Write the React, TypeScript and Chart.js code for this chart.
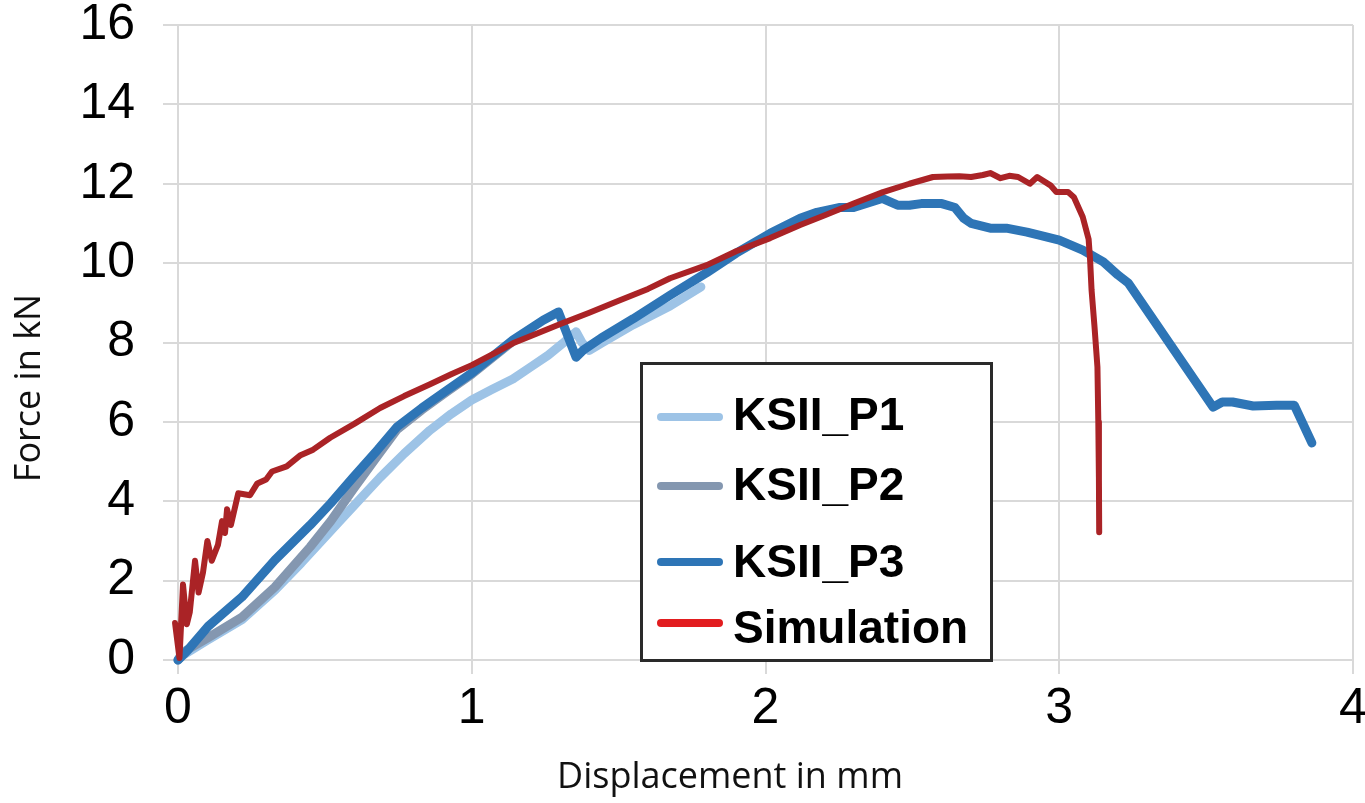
import React, { useEffect, useRef } from "react";
import { Chart, registerables } from "chart.js";

Chart.register(...registerables);

// ---- data ----
const X_TITLE = "Displacement in mm";
const Y_TITLE = "Force in kN";

const seriesLabels = ["KSII_P1", "KSII_P2", "KSII_P3", "Simulation"];
const lineColors = ["#9DC3E6", "#8497B0", "#2E75B6", "#AA2326"];
const legendColors = ["#9DC3E6", "#8497B0", "#2E75B6", "#E21D1F"];
const lineWidths = [9, 9, 9, 6];
const drawOrder = [4, 3, 2, 1]; // higher = drawn first (underneath)

const p1X = [0, 0.013, 0.1, 0.218, 0.33, 0.42, 0.55, 0.688, 0.77, 0.858, 0.93, 1.0, 1.07, 1.14, 1.2, 1.26, 1.31, 1.355, 1.375, 1.4, 1.44, 1.55, 1.675, 1.78];
const p1Y = [0, 0.1, 0.5, 1.02, 1.76, 2.45, 3.5, 4.6, 5.2, 5.79, 6.2, 6.55, 6.82, 7.08, 7.38, 7.68, 7.98, 8.27, 8.0, 7.8, 7.98, 8.45, 8.92, 9.4];

const p2X = [0, 0.013, 0.1, 0.218, 0.33, 0.45, 0.52, 0.596, 0.68, 0.745, 0.83, 0.916, 1.0, 1.14, 1.2];
const p2Y = [0, 0.18, 0.55, 1.08, 1.84, 2.85, 3.5, 4.3, 5.15, 5.8, 6.3, 6.76, 7.2, 8.03, 8.33];

const p3X = [0, 0.03, 0.103, 0.218, 0.33, 0.45, 0.52, 0.596, 0.68, 0.745, 0.83, 0.916, 1.0, 1.14, 1.243, 1.295, 1.31, 1.355, 1.38, 1.44, 1.55, 1.675, 1.8, 1.9, 2.016, 2.118, 2.175, 2.25, 2.3, 2.397, 2.45, 2.49, 2.53, 2.6, 2.645, 2.675, 2.7, 2.765, 2.82, 2.89, 2.935, 3.0, 3.08, 3.15, 3.2, 3.235, 3.524, 3.555, 3.59, 3.66, 3.74, 3.8, 3.86];
const p3Y = [0, 0.22, 0.85, 1.59, 2.52, 3.4, 3.95, 4.6, 5.3, 5.87, 6.35, 6.8, 7.23, 8.06, 8.56, 8.77, 8.49, 7.63, 7.81, 8.11, 8.6, 9.19, 9.76, 10.25, 10.75, 11.13, 11.28, 11.4, 11.4, 11.63, 11.46, 11.46, 11.5, 11.5, 11.4, 11.13, 11.0, 10.88, 10.88, 10.78, 10.7, 10.58, 10.33, 10.03, 9.7, 9.5, 6.37, 6.5, 6.5, 6.4, 6.42, 6.42, 5.47];

const simX = [-0.034, -0.01, 0.005, 0.017, 0.03, 0.04, 0.058, 0.07, 0.085, 0.1, 0.115, 0.136, 0.15, 0.16, 0.167, 0.18, 0.205, 0.245, 0.27, 0.3, 0.32, 0.37, 0.415, 0.46, 0.518, 0.6, 0.688, 0.77, 0.858, 0.93, 1.0, 1.07, 1.14, 1.22, 1.31, 1.4, 1.5, 1.6, 1.675, 1.8, 1.9, 2.016, 2.118, 2.2, 2.3, 2.4, 2.49, 2.57, 2.62, 2.66, 2.7, 2.74, 2.765, 2.8, 2.83, 2.86, 2.9, 2.925, 2.97, 2.99, 3.03, 3.05, 3.08, 3.1, 3.105, 3.11, 3.12, 3.13, 3.133, 3.135, 3.136];
const simY = [0.45, 0.93, 0.05, 1.9, 0.9, 1.2, 2.5, 1.7, 2.2, 3.0, 2.5, 2.9, 3.5, 3.2, 3.8, 3.4, 4.2, 4.15, 4.45, 4.55, 4.75, 4.88, 5.15, 5.3, 5.6, 5.95, 6.35, 6.65, 6.95, 7.2, 7.43, 7.7, 7.98, 8.22, 8.49, 8.75, 9.05, 9.35, 9.62, 9.95, 10.3, 10.63, 10.96, 11.2, 11.5, 11.79, 12.0, 12.17, 12.18, 12.19, 12.17, 12.22, 12.27, 12.14, 12.2, 12.17, 12.0, 12.17, 11.96, 11.79, 11.79, 11.66, 11.16, 10.6, 10.08, 9.32, 8.4, 7.38, 6.0, 4.6, 3.22];

const xTicks = [0, 1, 2, 3, 4];
const yTicks = [0, 2, 4, 6, 8, 10, 12, 14, 16];

const zip = (xs: number[], ys: number[]) => xs.map((x, i) => ({ x, y: ys[i] }));
const seriesPoints = [zip(p1X, p1Y), zip(p2X, p2Y), zip(p3X, p3Y), zip(simX, simY)];

const overlayPlugin = {
  id: "overlay",
  afterDraw(chart: any) {
    const ctx = chart.ctx as CanvasRenderingContext2D;
    ctx.save();
    // axis titles
    ctx.fillStyle = "#111";
    ctx.font = "36px 'Open Sans'";
    ctx.textAlign = "center";
    ctx.textBaseline = "middle";
    ctx.fillText(X_TITLE, 730, 778);
    ctx.save();
    ctx.translate(30, 388);
    ctx.rotate(-Math.PI / 2);
    ctx.fillText(Y_TITLE, 0, 0);
    ctx.restore();

    // legend box
    ctx.fillStyle = "#ffffff";
    ctx.fillRect(641, 363, 351, 298);
    ctx.strokeStyle = "#2a2a2a";
    ctx.lineWidth = 3;
    ctx.strokeRect(641.5, 363.5, 350, 297);
    const sampleY = [417, 486, 562, 623];
    const baseY = [430, 500, 577, 643];
    ctx.font = "bold 46px 'Liberation Sans'";
    ctx.textAlign = "left";
    ctx.textBaseline = "alphabetic";
    chart.data.datasets.forEach((ds: any, i: number) => {
      ctx.strokeStyle = legendColors[i];
      ctx.lineWidth = 8;
      ctx.lineCap = "round";
      ctx.beginPath();
      ctx.moveTo(661, sampleY[i]);
      ctx.lineTo(719, sampleY[i]);
      ctx.stroke();
      ctx.fillStyle = "#000";
      ctx.fillText(ds.label, 733, baseY[i]);
    });
    ctx.restore();
  },
};

const zeroPadding = (s: any) => {
  s.paddingTop = 0;
  s.paddingBottom = 0;
  s.paddingLeft = 0;
  s.paddingRight = 0;
};

export default function App() {
  const ref = useRef<HTMLCanvasElement | null>(null);
  useEffect(() => {
    if (!ref.current) return;
    const chart = new Chart(ref.current, {
      type: "scatter",
      data: {
        datasets: seriesLabels.map((label, i) => ({
          label,
          data: seriesPoints[i],
          order: drawOrder[i],
          showLine: true,
          borderColor: lineColors[i],
          backgroundColor: lineColors[i],
          borderWidth: lineWidths[i],
          pointRadius: 0,
          pointHoverRadius: 0,
          tension: 0,
          borderJoinStyle: "round",
          borderCapStyle: "round",
          clip: false,
        })),
      },
      options: {
        responsive: false,
        animation: false,
        layout: { padding: { left: 0, top: 25, right: 12, bottom: 0 } },
        plugins: { legend: { display: false }, tooltip: { enabled: false } },
        scales: {
          x: {
            type: "linear",
            min: 0,
            max: 4,
            afterBuildTicks: (s: any) => {
              s.ticks = xTicks.map((v) => ({ value: v }));
            },
            afterFit: (s: any) => {
              s.height = 143;
              zeroPadding(s);
            },
            grid: { color: "#d9d9d9", lineWidth: 2, tickLength: 14 },
            border: { color: "#d9d9d9", width: 2 },
            ticks: {
              color: "#000",
              padding: 10,
              font: { family: "'Liberation Sans'", size: 50, lineHeight: 1 },
              maxRotation: 0,
            },
            title: { display: false },
          },
          y: {
            type: "linear",
            min: 0,
            max: 16,
            afterBuildTicks: (s: any) => {
              s.ticks = yTicks.map((v) => ({ value: v }));
            },
            afterFit: (s: any) => {
              s.width = 178;
              zeroPadding(s);
            },
            grid: { color: "#d9d9d9", lineWidth: 2, tickLength: 15 },
            border: { color: "#d9d9d9", width: 2 },
            ticks: {
              color: "#000",
              padding: 28,
              font: { family: "'Liberation Sans'", size: 50, lineHeight: 1 },
            },
            title: { display: false },
          },
        },
      },
      plugins: [overlayPlugin],
    } as any);
    return () => chart.destroy();
  }, []);
  return (
    <div style={{ position: "absolute", left: 0, top: 0, width: 1365, height: 803, background: "#fff" }}>
      <canvas ref={ref} width={1365} height={803} style={{ width: 1365, height: 803, display: "block" }} />
    </div>
  );
}
